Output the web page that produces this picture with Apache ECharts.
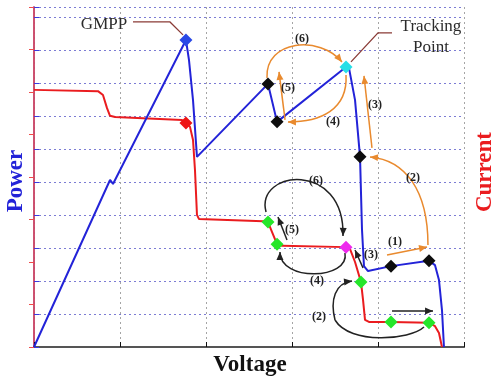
<!DOCTYPE html>
<html>
<head>
<meta charset="utf-8">
<script src="https://cdn.jsdelivr.net/npm/echarts@6/dist/echarts.min.js"></script>
<style>
  html, body { margin: 0; padding: 0; background: #fff; }
  #chart { width: 493px; height: 378px; }
</style>
</head>
<body>
<div id="chart"></div>
<script>
// P-V curve (left axis, power) under partial shading
const pvVoltage = [0.000, 0.884, 0.919, 1.767, 1.802, 1.849, 1.895, 2.721, 2.826, 3.628, 3.663, 3.733, 3.791, 3.814, 3.837, 3.884, 4.151, 4.593, 4.663, 4.709, 4.744, 4.767];
const pvPower   = [0.00, 5.06, 4.94, 9.30, 8.70, 7.48, 5.76, 7.97, 6.82, 8.48, 8.45, 7.48, 5.76, 3.55, 2.45, 2.30, 2.45, 2.61, 2.48, 2.03, 1.12, 0.00];

// I-V curve (right axis, current)
const ivVoltage = [0.000, 0.744, 0.802, 0.849, 0.884, 0.942, 1.721, 1.767, 1.814, 1.849, 1.872, 1.895, 1.919, 2.663, 2.721, 2.767, 2.826, 2.884, 3.628, 3.674, 3.733, 3.802, 3.826, 3.849, 3.895, 4.151, 4.593, 4.663, 4.709, 4.744];
const ivCurrent = [6.05, 6.02, 5.93, 5.62, 5.44, 5.41, 5.34, 5.27, 5.18, 4.87, 4.16, 3.11, 3.01, 2.96, 2.94, 2.71, 2.42, 2.38, 2.35, 2.31, 2.00, 1.53, 1.11, 0.64, 0.59, 0.59, 0.57, 0.49, 0.33, 0.00];

// Marked operating points (indices into the curves above)
const gmppIdx = [3];
const trackIdx = [9];
const pvStepIdx = [7, 8, 12, 16, 17];
const ivGmppIdx = [7];
const ivStepIdx = [14, 16, 21, 25, 26];
const ivTrackIdx = [18];

const pvPoint = i => [pvVoltage[i], pvPower[i]];
const ivPoint = i => [ivVoltage[i], ivCurrent[i]];

const BLUE = '#2323d8';
const RED = '#ea1c1f';
const ORANGE = '#e98a2e';
const INK = '#222222';
const LEAD = '#8a3b36';
const SERIF = '"Liberation Serif", "DejaVu Serif", serif';
const STEP_FONT = 'bold 12px ' + SERIF;

// Search-step arrows and labels, in (voltage, power) units
const annotations = [
  // orange: steps on the P-V curve
  { kind: 'curve', color: ORANGE, arrow: true, pts: [[2.709, 8.152], [2.686, 9.303], [3.326, 9.455], [3.581, 8.636]] },
  { kind: 'curve', color: ORANGE, arrow: true, pts: [[3.628, 8.242], [3.651, 7.182], [3.326, 6.818], [2.953, 6.818]] },
  { kind: 'line', color: ORANGE, arrow: true, pts: [[2.919, 6.879], [2.849, 8.333]] },
  { kind: 'line', color: ORANGE, arrow: true, pts: [[3.930, 6.030], [3.837, 8.212]] },
  { kind: 'curve', color: ORANGE, arrow: true, pts: [[4.581, 3.091], [4.581, 4.758], [4.314, 5.667], [3.907, 5.758]] },
  { kind: 'line', color: ORANGE, arrow: true, pts: [[4.105, 2.788], [4.570, 3.030]] },
  // black: steps on the I-V curve
  { kind: 'curve', color: INK, arrow: true, pts: [[2.698, 4.091], [2.570, 5.364], [3.616, 5.667], [3.593, 3.364]] },
  { kind: 'line', color: INK, arrow: true, pts: [[2.942, 3.242], [2.837, 3.939]] },
  { kind: 'curve', color: INK, arrow: true, pts: [[3.616, 2.848], [3.674, 2.030], [2.860, 1.970], [2.860, 2.879]] },
  { kind: 'curve', color: INK, arrow: true, pts: [[4.535, 0.606], [4.372, 0.212], [3.674, 0.061], [3.500, 0.818], [3.442, 1.424], [3.500, 1.939], [3.698, 2.000]] },
  { kind: 'line', color: INK, arrow: true, pts: [[4.163, 1.091], [4.640, 1.091]] },
  { kind: 'line', color: INK, arrow: true, pts: [[3.826, 2.394], [3.733, 2.939]] },
  // leader lines
  { kind: 'line', color: LEAD, arrow: false, pts: [[1.151, 9.848], [1.581, 9.848], [1.733, 9.455]] },
  { kind: 'line', color: LEAD, arrow: false, pts: [[4.163, 9.515], [4.000, 9.515], [3.686, 8.636]] },
  // step labels
  { kind: 'text', text: '(6)', color: INK, font: STEP_FONT, pts: [[3.116, 9.333]] },
  { kind: 'text', text: '(5)', color: INK, font: STEP_FONT, pts: [[2.953, 7.848]] },
  { kind: 'text', text: '(4)', color: INK, font: STEP_FONT, pts: [[3.477, 6.818]] },
  { kind: 'text', text: '(3)', color: INK, font: STEP_FONT, pts: [[3.965, 7.333]] },
  { kind: 'text', text: '(2)', color: INK, font: STEP_FONT, pts: [[4.407, 5.121]] },
  { kind: 'text', text: '(1)', color: INK, font: STEP_FONT, pts: [[4.198, 3.182]] },
  { kind: 'text', text: '(6)', color: INK, font: STEP_FONT, pts: [[3.279, 5.030]] },
  { kind: 'text', text: '(5)', color: INK, font: STEP_FONT, pts: [[3.000, 3.545]] },
  { kind: 'text', text: '(4)', color: INK, font: STEP_FONT, pts: [[3.291, 2.000]] },
  { kind: 'text', text: '(3)', color: INK, font: STEP_FONT, pts: [[3.919, 2.788]] },
  { kind: 'text', text: '(2)', color: INK, font: STEP_FONT, pts: [[3.314, 0.909]] },
  // point names
  { kind: 'text', text: 'GMPP', color: '#2b2b2b', font: '17px ' + SERIF, pts: [[0.814, 9.758]] },
  { kind: 'text', text: 'Tracking', color: '#2b2b2b', font: '17px ' + SERIF, pts: [[4.616, 9.697]] },
  { kind: 'text', text: 'Point', color: '#2b2b2b', font: '17px ' + SERIF, pts: [[4.616, 9.061]] }
];

function arrowHead(tip, from, color) {
  const dx = tip[0] - from[0], dy = tip[1] - from[1];
  const len = Math.hypot(dx, dy) || 1;
  const ux = dx / len, uy = dy / len;
  const L = 8, W = 3.5;
  const bx = tip[0] - ux * L, by = tip[1] - uy * L;
  return {
    type: 'polygon',
    shape: { points: [tip, [bx - uy * W, by + ux * W], [bx + uy * W, by - ux * W]] },
    style: { fill: color, stroke: 'none' }
  };
}

function renderAnnotation(params, api) {
  const a = annotations[params.dataIndex];
  const p = a.pts.map(q => api.coord(q));
  const children = [];
  if (a.kind === 'text') {
    children.push({
      type: 'text', x: p[0][0], y: p[0][1],
      style: { text: a.text, font: a.font, fill: a.color, align: 'center', verticalAlign: 'middle' }
    });
  } else if (a.kind === 'curve') {
    for (let i = 0; i + 3 < p.length; i += 3) {
      children.push({
        type: 'bezierCurve',
        shape: {
          x1: p[i][0], y1: p[i][1],
          cpx1: p[i + 1][0], cpy1: p[i + 1][1],
          cpx2: p[i + 2][0], cpy2: p[i + 2][1],
          x2: p[i + 3][0], y2: p[i + 3][1]
        },
        style: { stroke: a.color, fill: 'none', lineWidth: 1.5 }
      });
    }
    if (a.arrow) children.push(arrowHead(p[p.length - 1], p[p.length - 2], a.color));
  } else {
    children.push({
      type: 'polyline', shape: { points: p },
      style: { stroke: a.color, fill: 'none', lineWidth: a.arrow ? 1.5 : 1.3 }
    });
    if (a.arrow) children.push(arrowHead(p[p.length - 1], p[p.length - 2], a.color));
  }
  return { type: 'group', children };
}

function diamonds(points, color, yAxisIndex) {
  return {
    type: 'scatter', yAxisIndex, symbol: 'diamond', symbolSize: 13,
    itemStyle: { color, opacity: 1 }, z: 10, silent: true,
    data: points
  };
}

const chart = echarts.init(document.getElementById('chart'), null, { renderer: 'canvas' });

chart.setOption({
  animation: false,
  backgroundColor: '#ffffff',
  grid: { left: 34, right: 29, top: 7, bottom: 31 },
  xAxis: [
    {
      type: 'value', min: 0, max: 5, interval: 1,
      axisLine: { lineStyle: { color: '#111', width: 1.5 } },
      axisTick: { inside: true, length: 5, lineStyle: { color: '#111' } },
      axisLabel: { show: false },
      splitLine: { show: true, lineStyle: { color: '#a5a5a5', type: [2, 3], width: 1 } }
    },
    {
      type: 'value', position: 'top', min: 0, max: 5,
      axisLine: { show: true, lineStyle: { color: '#555', width: 2 } },
      axisTick: { show: false }, axisLabel: { show: false }, splitLine: { show: false }
    }
  ],
  yAxis: [
    {
      type: 'value', position: 'left', min: 0, max: 10.3, interval: 1,
      axisLine: { show: true, lineStyle: { color: '#3b3be0', width: 1.5 } },
      axisTick: { show: true, inside: true, length: 5, lineStyle: { color: '#3b3be0' } },
      axisLabel: { show: false },
      splitLine: { show: true, lineStyle: { color: '#7c7cd4', type: [2, 3], width: 1 } }
    },
    {
      type: 'value', position: 'right', min: 0, max: 8, interval: 1,
      axisLine: { show: true, lineStyle: { color: '#ee4a4a', width: 1.5 } },
      axisTick: { show: true, inside: true, length: 5, lineStyle: { color: '#ee4a4a' } },
      axisLabel: { show: false },
      splitLine: { show: false }
    }
  ],
  graphic: [
    {
      type: 'text', x: 16, y: 181, rotation: Math.PI / 2,
      style: { text: 'Power', font: 'bold 23px ' + SERIF, fill: BLUE, align: 'center', verticalAlign: 'middle' }
    },
    {
      type: 'text', x: 485, y: 172, rotation: Math.PI / 2,
      style: { text: 'Current', font: 'bold 23px ' + SERIF, fill: RED, align: 'center', verticalAlign: 'middle' }
    },
    {
      type: 'text', x: 250, y: 365,
      style: { text: 'Voltage', font: 'bold 23px ' + SERIF, fill: '#111', align: 'center', verticalAlign: 'middle' }
    }
  ],
  series: [
    {
      type: 'line', yAxisIndex: 1, showSymbol: false, symbol: 'none', z: 3,
      lineStyle: { color: RED, width: 2 },
      data: ivVoltage.map((v, i) => [v, ivCurrent[i]])
    },
    {
      type: 'line', yAxisIndex: 0, showSymbol: false, symbol: 'none', z: 4,
      lineStyle: { color: BLUE, width: 2 },
      data: pvVoltage.map((v, i) => [v, pvPower[i]])
    },
    {
      type: 'custom', xAxisIndex: 0, yAxisIndex: 0, clip: false, silent: true, z: 6,
      renderItem: renderAnnotation,
      data: annotations.map(a => a.pts[0])
    },
    diamonds(gmppIdx.map(pvPoint), '#2a48e6', 0),
    diamonds(trackIdx.map(pvPoint), '#27dfe6', 0),
    diamonds(pvStepIdx.map(pvPoint), '#0d0d0d', 0),
    diamonds(ivGmppIdx.map(ivPoint), '#ee1414', 1),
    diamonds(ivStepIdx.map(ivPoint), '#25e62a', 1),
    diamonds(ivTrackIdx.map(ivPoint), '#ee2aee', 1)
  ]
});
</script>
</body>
</html>
